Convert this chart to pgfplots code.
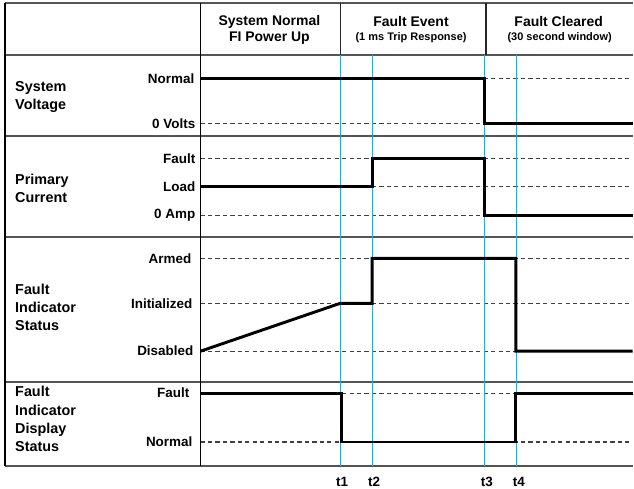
\documentclass[border=0pt]{standalone}
\usepackage{fontspec}
\setmainfont{Liberation Sans}
\usepackage{pgfplots}
\pgfplotsset{compat=1.18}
\definecolor{tl}{HTML}{29ABE2}
\definecolor{gridc}{HTML}{555555}
\tikzset{lbl/.style={font=\bfseries\fontsize{10.1}{13.5}\selectfont, inner sep=0pt},
         hdr/.style={font=\bfseries\fontsize{10.5}{13.5}\selectfont, inner sep=0pt},
         row/.style={font=\bfseries\fontsize{10.8}{13.7}\selectfont, inner sep=0pt, anchor=west, align=left},
         sml/.style={font=\bfseries\fontsize{8.25}{10}\selectfont, inner sep=0pt}}
\begin{document}
\begin{tikzpicture}
\begin{axis}[
  scale only axis, width=475.5pt, height=367.5pt,
  xmin=0, xmax=634, ymin=0, ymax=490, y dir=reverse,
  hide axis, clip=false,
]
% invisible extent
\addplot[draw=none] coordinates {(0,0) (634,490)};
% table horizontal lines
\addplot[gridc, line width=1.5pt] coordinates {(5,3) (634,3)};
\addplot[gridc, line width=1.5pt] coordinates {(5,55) (634,55)};
\addplot[gridc, line width=1.5pt] coordinates {(5,136) (634,136)};
\addplot[gridc, line width=1.5pt] coordinates {(5,238) (634,238)};
\addplot[gridc, line width=1.5pt] coordinates {(5,383) (634,383)};
\addplot[gridc, line width=1.5pt] coordinates {(5,467) (634,467)};
% vertical lines
\addplot[black, line width=1.1pt] coordinates {(5,3) (5,467)};
\addplot[black, line width=1.1pt] coordinates {(201,3) (201,467)};
\addplot[black!85, line width=1pt] coordinates {(341,3) (341,55)};
\addplot[black!85, line width=1pt] coordinates {(487,3) (487,55)};
% dashed level lines
\foreach \yy in {79,124,159,187,216,259,304,352,394,443}{
  \edef\tmp{\noexpand\addplot[black!75, line width=0.9pt, dash pattern=on 3.2pt off 2.4pt] coordinates {(201,\yy) (634,\yy)};}
  \tmp
}
% time markers
\addplot[tl, line width=0.9pt] coordinates {(341,55) (341,467)};
\addplot[tl, line width=0.9pt] coordinates {(373,55) (373,467)};
\addplot[tl, line width=0.9pt] coordinates {(486,55) (486,467)};
\addplot[tl, line width=0.9pt] coordinates {(517.5,55) (517.5,467)};
% signals
\addplot[black, line width=2.2pt] coordinates {(201,79) (486,79) (486,124) (634,124)};
\addplot[black, line width=2.2pt] coordinates {(201,187) (373,187) (373,159) (486,159) (486,216) (634,216)};
\addplot[black, line width=2.2pt] coordinates {(201,352) (341,304) (373,304) (373,259) (517,259) (517,352) (634,352)};
\addplot[black, line width=2.2pt] coordinates {(201,394) (342,394) (342,443) (517,443) (517,394) (634,394)};
% header
\node[hdr] at (axis cs:270,21.5) {System Normal};
\node[hdr] at (axis cs:270,38) {FI Power Up};
\node[hdr] at (axis cs:412,21.5) {Fault Event};
\node[sml] at (axis cs:412,38) {(1 ms Trip Response)};
\node[hdr] at (axis cs:560,21.5) {Fault Cleared};
\node[sml] at (axis cs:561,38) {(30 second window)};
% row labels
\node[row] at (axis cs:15,97) {System\\Voltage};
\node[row] at (axis cs:15,189) {Primary\\Current};
\node[row] at (axis cs:15,308) {Fault\\Indicator\\Status};
\node[row] at (axis cs:15,420) {Fault\\Indicator\\Display\\Status};
% level labels
\node[lbl, anchor=east] at (axis cs:195,79) {Normal};
\node[lbl, anchor=east] at (axis cs:196,124) {0 Volts};
\node[lbl, anchor=east] at (axis cs:196,159) {Fault};
\node[lbl, anchor=east] at (axis cs:196,187) {Load};
\node[lbl, anchor=east] at (axis cs:196,216) {0 Amp};
\node[lbl, anchor=east] at (axis cs:192,259) {Armed};
\node[lbl, anchor=east] at (axis cs:193,304) {Initialized};
\node[lbl, anchor=east] at (axis cs:194,352) {Disabled};
\node[lbl, anchor=east] at (axis cs:190,394) {Fault};
\node[lbl, anchor=east] at (axis cs:193,443) {Normal};
% time labels
\node[lbl] at (axis cs:343,483) {t1};
\node[lbl] at (axis cs:375,483) {t2};
\node[lbl] at (axis cs:488,483) {t3};
\node[lbl] at (axis cs:520,483) {t4};
\end{axis}
\end{tikzpicture}
\end{document}
